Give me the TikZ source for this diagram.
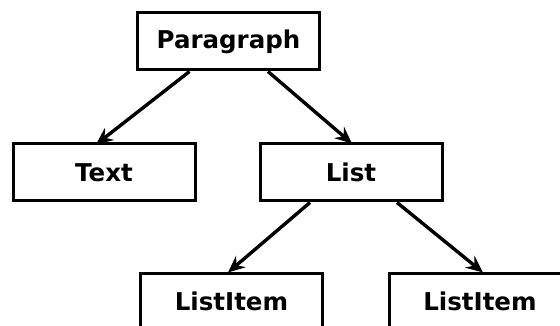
\documentclass[tikz,border=0pt]{standalone}
\usepackage{fontspec}
\setmainfont{DejaVu Sans}
\usetikzlibrary{arrows.meta,calc}
\begin{document}
\begin{tikzpicture}[x=1pt,y=-1pt,
  box/.style={draw,line width=3pt,minimum width=182pt,minimum height=57pt,
    inner sep=0pt,font=\fontsize{24.5}{28}\selectfont\bfseries},
  link/.style={line width=3.4pt,-{Stealth[length=17pt,width=15pt,inset=6pt]}}]
  \useasboundingbox (0,0) rectangle (560,326);
  \node[box] (para) at (228.5,41.5) {Paragraph};
  \node[box] (text) at (104,172.5) {Text};
  \node[box] (list) at (351,172.5) {List};
  \node[box] (itemA) at (231.5,301.5) {ListItem};
  \node[box] (itemB) at (480,301.5) {ListItem};
  \draw[link] ($(para.south)+(-39,0)$) -- ($(text.north)+(-8,2)$);
  \draw[link] ($(para.south)+(39.5,0)$) -- ($(list.north)+(1,1)$);
  \draw[link] ($(list.south)+(-41,0)$) -- ($(itemA.north)+(-3.5,1)$);
  \draw[link] ($(list.south)+(46,0)$) -- ($(itemB.north)+(3,1)$);
\end{tikzpicture}
\end{document}
